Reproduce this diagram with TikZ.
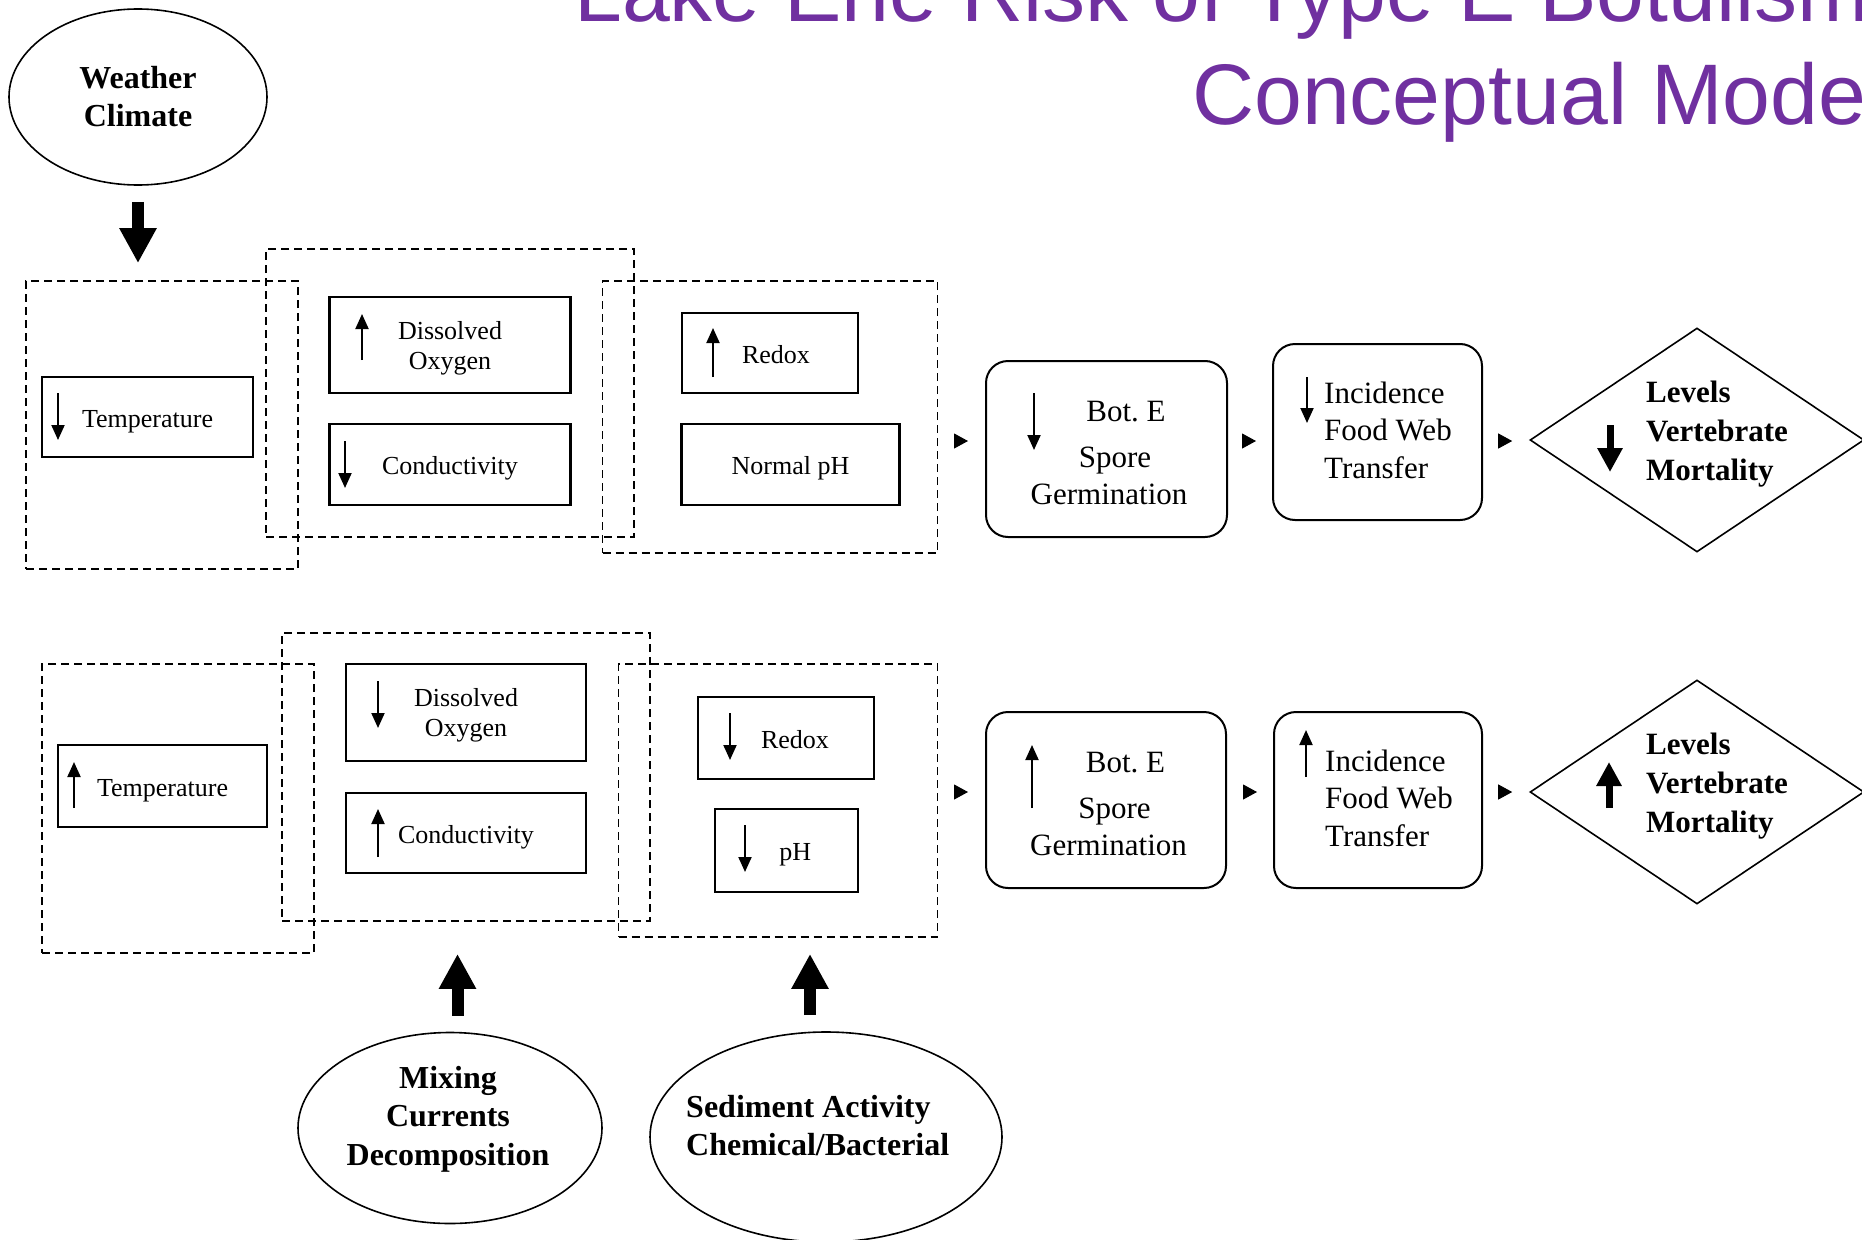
\documentclass[tikz,border=0pt]{standalone}
\usepackage{fontspec}
\setmainfont{Liberation Serif}
\newfontfamily\titlefont{Liberation Sans}
\usetikzlibrary{arrows.meta,shapes.geometric,calc}
\definecolor{titlepurple}{RGB}{112,48,160}

\tikzset{
  group/.style={draw, rectangle, inner sep=0pt, line width=1.8pt, dash pattern=on 8pt off 5pt},
  factor/.style={draw, rectangle, inner sep=0pt, line width=2.2pt, align=center, text height=20pt, text depth=0pt, font=\fontsize{26}{30}\selectfont},
  twoline/.style={text height=, text depth=},
  stage/.style={draw, rectangle, inner sep=0pt, line width=2pt, rounded corners=22pt, minimum height=176pt},
  stagetext/.style={inner sep=0pt, font=\fontsize{31}{37.5}\selectfont},
  driver/.style={draw, ellipse, inner sep=0pt, line width=1.6pt, align=center},
  outcome/.style={draw, diamond, inner sep=0pt, line width=1.6pt, minimum width=334pt, minimum height=224pt},
  boldtext/.style={inner sep=0pt, font=\bfseries\fontsize{32}{38.5}\selectfont},
  small/.style={line width=2pt, -{Triangle[length=15pt,width=13pt]}},
  heavy/.style={line width=7pt, -{Triangle[length=24pt,width=24pt]}},
  push/.style={line width=12pt, -{Triangle[length=35pt,width=35pt]}},
  link/.style={line width=1pt, -{Triangle[length=14pt,width=15pt]}}
}

\begin{document}
\begin{tikzpicture}[x=1pt,y=-1pt]
\useasboundingbox (0,0) rectangle (1862,1239);
\clip (0,0) rectangle (1862,1239);

\node[anchor=base west, inner sep=0pt, text=titlepurple, font=\titlefont\fontsize{86}{100}\selectfont] (title1) at (574,22) {Lake Erie Risk of Type E Botulism};
\node[anchor=base west, inner sep=0pt, text=titlepurple, font=\titlefont\fontsize{86}{100}\selectfont] (title2) at (1192,124) {Conceptual Model};

\node[driver, minimum width=258pt, minimum height=176pt, font=\bfseries\fontsize{32}{38}\selectfont] (weather) at (138,97) {Weather\\Climate};
\node[driver, minimum width=304pt, minimum height=191pt] (mixing) at (450,1128) {};
\node[boldtext, align=center] (mixtxt) at ($(mixing.center)+(-2,-9)$) {Mixing\\Currents\\Decomposition};
\node[driver, minimum width=352pt, minimum height=210pt] (sediment) at (826,1137) {};
\node[boldtext, align=left, anchor=west, font=\bfseries\fontsize{32}{38}\selectfont] (sedtxt) at ($(sediment.center)+(-140,-11)$) {Sediment Activity\\Chemical/Bacterial};

% low risk row
\node[group, minimum width=272pt, minimum height=288pt] (grpA1) at (162,425) {};
\node[group, minimum width=368pt, minimum height=288pt] (grpB1) at (450,393) {};
\node[group, minimum width=335pt, minimum height=272pt] (grpC1) at (770,417) {};

\node[factor, minimum width=211pt, minimum height=80pt] (temp1) at (147.5,417) {Temperature};
\node[factor, twoline, minimum width=241pt, minimum height=96pt] (do1) at (450,345) {\rule{0pt}{24pt}Dissolved\\Oxygen};
\node[factor, minimum width=241pt, minimum height=81pt] (cond1) at (450,464.5) {Conductivity};
\node[factor, minimum width=176pt, minimum height=80pt] (redox1) at (770,353) {\hspace*{12pt}Redox};
\node[factor, minimum width=218pt, minimum height=81pt] (ph1) at (790.5,464.5) {Normal pH};

\node[stage, minimum width=241pt] (bot1) at (1106.5,449) {};
\node[stagetext, align=center] (bot1txt) at ($(bot1.center)+(2.5,4)$) {\hspace*{34pt}Bot.~E\\[8pt]\hspace*{12pt}Spore\\Germination};
\node[stage, minimum width=209pt] (inc1) at (1377.5,432) {};
\node[stagetext, align=left, anchor=west] (inc1txt) at ($(inc1.west)+(52,-2)$) {Incidence\\Food Web\\Transfer};
\node[outcome] (lev1) at (1697,440) {};
\node[boldtext, align=left, anchor=west, font=\bfseries\fontsize{31}{39}\selectfont] (lev1txt) at ($(lev1.center)+(-51,-6)$) {Levels\\Vertebrate\\Mortality};

\draw[small] (58,393) -- (58,440);
\draw[small] (362,360) -- (362,314);
\draw[small] (345,441) -- (345,488);
\draw[small] (713,377) -- (713,328);
\draw[small] (1034,393) -- (1034,450);
\draw[small] (1307,377) -- (1307,423);
\draw[heavy] (1610,425) -- (1610,472);

\coordinate (rowA) at (0,441);
\draw[link, shorten <=17.5pt, shorten >=17pt] (grpC1.east |- rowA) -- (bot1.west |- rowA);
\draw[link, shorten <=16pt, shorten >=16pt] (bot1.east |- rowA) -- (inc1.west |- rowA);
\draw[link, shorten <=16pt, shorten >=17pt] (inc1.east |- rowA) -- (lev1.west |- rowA);

% high risk row
\node[group, minimum width=272pt, minimum height=289pt] (grpA2) at (178,808.5) {};
\node[group, minimum width=368pt, minimum height=288pt] (grpB2) at (466,777) {};
\node[group, minimum width=319pt, minimum height=273pt] (grpC2) at (778,800.5) {};

\node[factor, minimum width=209pt, minimum height=82pt] (temp2) at (162.5,786) {Temperature};
\node[factor, twoline, minimum width=240pt, minimum height=97pt] (do2) at (466,712.5) {\rule{0pt}{24pt}Dissolved\\Oxygen};
\node[factor, minimum width=240pt, minimum height=80pt] (cond2) at (466,833) {Conductivity};
\node[factor, minimum width=176pt, minimum height=82pt] (redox2) at (786,738) {\hspace*{18pt}Redox};
\node[factor, minimum width=143pt, minimum height=83pt] (ph2) at (786.3,850.5) {\hspace*{18pt}pH};

\node[stage, minimum width=240pt] (bot2) at (1106,800) {};
\node[stagetext, align=center] (bot2txt) at ($(bot2.center)+(2.5,4)$) {\hspace*{34pt}Bot.~E\\[8pt]\hspace*{12pt}Spore\\Germination};
\node[stage, minimum width=208pt] (inc2) at (1378,800) {};
\node[stagetext, align=left, anchor=west] (inc2txt) at ($(inc2.west)+(52,-2)$) {Incidence\\Food Web\\Transfer};
\node[outcome] (lev2) at (1697,792) {};
\node[boldtext, align=left, anchor=west, font=\bfseries\fontsize{31}{39}\selectfont] (lev2txt) at ($(lev2.center)+(-51,-6)$) {Levels\\Vertebrate\\Mortality};

\draw[small] (74,808) -- (74,762);
\draw[small] (378,681) -- (378,728);
\draw[small] (378,857) -- (378,809);
\draw[small] (730,713) -- (730,760);
\draw[small] (745,825) -- (745,872);
\draw[small] (1032,808) -- (1032,745);
\draw[small] (1306,777) -- (1306,730);
\draw[heavy] (1609,808) -- (1609,762);

\coordinate (rowB) at (0,792);
\draw[link, shorten <=17.5pt, shorten >=17pt] (grpC2.east |- rowB) -- (bot2.west |- rowB);
\draw[link, shorten <=16pt, shorten >=16pt] (bot2.east |- rowB) -- (inc2.west |- rowB);
\draw[link, shorten <=16pt, shorten >=17pt] (inc2.east |- rowB) -- (lev2.west |- rowB);

\draw[push, shorten <=16pt, shorten >=17pt] (weather.south) -- (weather.south |- grpA1.north);
\draw[push, shorten <=16pt, shorten >=32pt] ([xshift=7.5pt]mixing.north) -- ([xshift=7.5pt]mixing.north |- grpB2.south);
\draw[push, shorten <=16pt, shorten >=16pt] ([xshift=-16pt]sediment.north) -- ([xshift=-16pt]sediment.north |- grpC2.south);

\end{tikzpicture}
\end{document}
